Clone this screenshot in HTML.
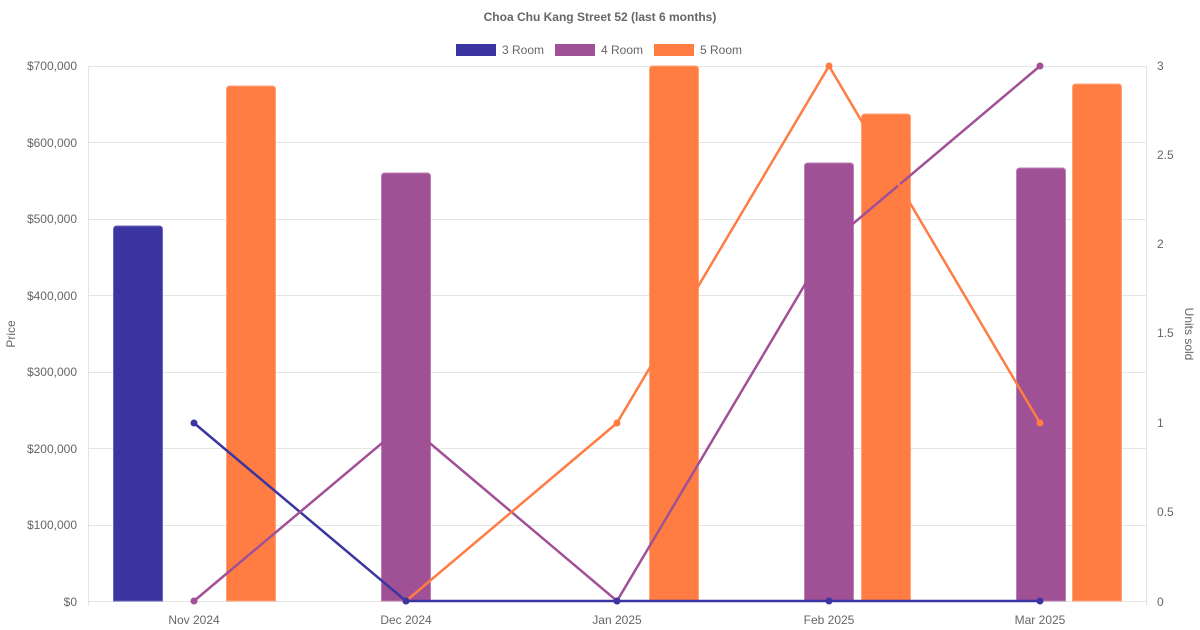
<!DOCTYPE html>
<html><head><meta charset="utf-8"><style>
body{margin:0;background:#fff;}
svg{display:block;font-family:"Liberation Sans",sans-serif;}
</style></head><body>
<svg width="1200" height="630" viewBox="0 0 1200 630">
<text x="600" y="21" text-anchor="middle" font-size="12" font-weight="bold" fill="#666">Choa Chu Kang Street 52 (last 6 months)</text>
<g font-size="12" fill="#666">
<rect x="456" y="44" width="40" height="12" fill="#3a35a0"/><text x="502" y="54">3 Room</text>
<rect x="555" y="44" width="40" height="12" fill="#a05195"/><text x="601" y="54">4 Room</text>
<rect x="654" y="44" width="40" height="12" fill="#ff7c43"/><text x="700" y="54">5 Room</text>
</g>
<g stroke="#e5e5e5" stroke-width="1">
<line x1="88" y1="66.5" x2="1146" y2="66.5"/>
<line x1="88" y1="142.5" x2="1146" y2="142.5"/>
<line x1="88" y1="219.5" x2="1146" y2="219.5"/>
<line x1="88" y1="295.5" x2="1146" y2="295.5"/>
<line x1="88" y1="372.5" x2="1146" y2="372.5"/>
<line x1="88" y1="448.5" x2="1146" y2="448.5"/>
<line x1="88" y1="525.5" x2="1146" y2="525.5"/>
<line x1="88" y1="601.5" x2="1146" y2="601.5"/>
<line x1="88.5" y1="66" x2="88.5" y2="606"/>
<line x1="1146.5" y1="66" x2="1146.5" y2="606"/>
</g>
<g font-size="12" fill="#666" text-anchor="end">
<text x="77" y="70">$700,000</text><text x="77" y="147">$600,000</text><text x="77" y="223">$500,000</text>
<text x="77" y="300">$400,000</text><text x="77" y="376">$300,000</text><text x="77" y="453">$200,000</text>
<text x="77" y="529">$100,000</text><text x="77" y="606">$0</text>
</g>
<g font-size="12" fill="#666">
<text x="1157" y="70">3</text><text x="1157" y="159">2.5</text><text x="1157" y="248">2</text>
<text x="1157" y="337">1.5</text><text x="1157" y="427">1</text><text x="1157" y="516">0.5</text><text x="1157" y="606">0</text>
</g>
<g font-size="12" fill="#666" text-anchor="middle">
<text x="194" y="624">Nov 2024</text><text x="406" y="624">Dec 2024</text><text x="617" y="624">Jan 2025</text>
<text x="829" y="624">Feb 2025</text><text x="1040" y="624">Mar 2025</text>
</g>
<text transform="translate(15,334) rotate(-90)" text-anchor="middle" font-size="12" fill="#666">Price</text>
<text transform="translate(1185,334) rotate(90)" text-anchor="middle" font-size="12" fill="#666">Units sold</text>
<g stroke-width="1">
<path d="M113.5,601V229a3,3 0 0 1 3,-3h43a3,3 0 0 1 3,3V601Z" fill="#3a35a0" stroke="#6b67bb"/>
<path d="M226.5,601V89a3,3 0 0 1 3,-3h43a3,3 0 0 1 3,3V601Z" fill="#ff7c43" stroke="#ffa37b"/>
<path d="M381.5,601V176a3,3 0 0 1 3,-3h43a3,3 0 0 1 3,3V601Z" fill="#a05195" stroke="#bd7fb4"/>
<path d="M649.5,601V69a3,3 0 0 1 3,-3h43a3,3 0 0 1 3,3V601Z" fill="#ff7c43" stroke="#ffa37b"/>
<path d="M804.5,601V166a3,3 0 0 1 3,-3h43a3,3 0 0 1 3,3V601Z" fill="#a05195" stroke="#bd7fb4"/>
<path d="M861.5,601V117a3,3 0 0 1 3,-3h43a3,3 0 0 1 3,3V601Z" fill="#ff7c43" stroke="#ffa37b"/>
<path d="M1016.5,601V171a3,3 0 0 1 3,-3h43a3,3 0 0 1 3,3V601Z" fill="#a05195" stroke="#bd7fb4"/>
<path d="M1072.5,601V87a3,3 0 0 1 3,-3h43a3,3 0 0 1 3,3V601Z" fill="#ff7c43" stroke="#ffa37b"/>
</g>
<g fill="none" stroke-width="2.5">
<polyline stroke="#3a35a0" points="194,423 406,601 617,601 829,601 1040,601"/>
<polyline stroke="#a05195" points="194,601 406,423 617,601 829,244 1040,66"/>
<polyline stroke="#ff7c43" points="406,601 617,423 829,66 1040,423"/>
</g>
<g>
<circle cx="194" cy="601" r="3.5" fill="#a05195"/><circle cx="406" cy="423" r="3.5" fill="#a05195"/><circle cx="617" cy="601" r="3.5" fill="#a05195"/><circle cx="829" cy="244" r="3.5" fill="#a05195"/><circle cx="1040" cy="66" r="3.5" fill="#a05195"/>
<circle cx="406" cy="601" r="3.5" fill="#ff7c43"/><circle cx="617" cy="423" r="3.5" fill="#ff7c43"/><circle cx="829" cy="66" r="3.5" fill="#ff7c43"/><circle cx="1040" cy="423" r="3.5" fill="#ff7c43"/>
<circle cx="194" cy="423" r="3.5" fill="#3a35a0"/><circle cx="406" cy="601" r="3.5" fill="#3a35a0"/><circle cx="617" cy="601" r="3.5" fill="#3a35a0"/><circle cx="829" cy="601" r="3.5" fill="#3a35a0"/><circle cx="1040" cy="601" r="3.5" fill="#3a35a0"/>
</g>
</svg>
</body></html>
